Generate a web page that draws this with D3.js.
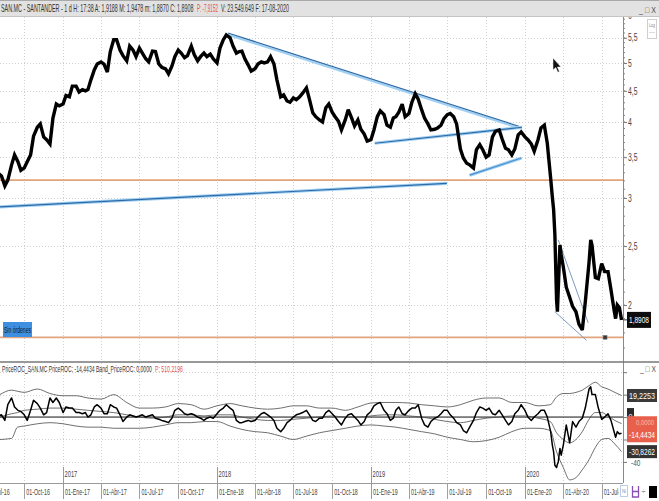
<!DOCTYPE html>
<html><head><meta charset="utf-8">
<script src="https://cdn.jsdelivr.net/npm/d3@7/dist/d3.min.js"></script>
<style>
html,body{margin:0;padding:0;background:#fff;}
svg{display:block;}
text{font-family:"Liberation Sans",Arial,sans-serif;}
</style></head>
<body>
<svg id="chart" width="659" height="501"></svg>
<script>
// ---------------- DATA ----------------
const priceDates = [
"2016-08-01","2016-08-08","2016-08-16","2016-08-23","2016-09-01","2016-09-08","2016-09-16","2016-09-23",
"2016-10-01","2016-10-08","2016-10-16","2016-10-23","2016-11-01","2016-11-08","2016-11-16","2016-11-23",
"2016-12-01","2016-12-08","2016-12-16","2016-12-23",
"2017-01-01","2017-01-08","2017-01-16","2017-01-23","2017-02-01","2017-02-08","2017-02-16","2017-02-23",
"2017-03-01","2017-03-08","2017-03-16","2017-03-23","2017-04-01","2017-04-08","2017-04-16","2017-04-23",
"2017-05-01","2017-05-08","2017-05-16","2017-05-23","2017-06-01","2017-06-08","2017-06-16","2017-06-23",
"2017-07-01","2017-07-08","2017-07-16","2017-07-23","2017-08-01","2017-08-08","2017-08-16","2017-08-23",
"2017-09-01","2017-09-08","2017-09-16","2017-09-23","2017-10-01","2017-10-08","2017-10-16","2017-10-23",
"2017-11-01","2017-11-08","2017-11-16","2017-11-23","2017-12-01","2017-12-08","2017-12-16","2017-12-23",
"2018-01-01","2018-01-08","2018-01-16","2018-01-23","2018-02-01","2018-02-08","2018-02-16","2018-02-23",
"2018-03-01","2018-03-08","2018-03-16","2018-03-23","2018-04-01","2018-04-08","2018-04-16","2018-04-23",
"2018-05-01","2018-05-08","2018-05-16","2018-05-23","2018-06-01","2018-06-08","2018-06-16","2018-06-23",
"2018-07-01","2018-07-08","2018-07-16","2018-07-23","2018-08-01","2018-08-08","2018-08-16","2018-08-23",
"2018-09-01","2018-09-08","2018-09-16","2018-09-23","2018-10-01","2018-10-08","2018-10-16","2018-10-23",
"2018-11-01","2018-11-08","2018-11-16","2018-11-23","2018-12-01","2018-12-08","2018-12-16","2018-12-23",
"2019-01-01","2019-01-08","2019-01-16","2019-01-23","2019-02-01","2019-02-08","2019-02-16","2019-02-23",
"2019-03-01","2019-03-08","2019-03-16","2019-03-23","2019-04-01","2019-04-08","2019-04-16","2019-04-23",
"2019-05-01","2019-05-08","2019-05-16","2019-05-23","2019-06-01","2019-06-08","2019-06-16","2019-06-23",
"2019-07-01","2019-07-08","2019-07-16","2019-07-23","2019-08-01","2019-08-08","2019-08-16","2019-08-23",
"2019-09-01","2019-09-08","2019-09-16","2019-09-23","2019-10-01","2019-10-08","2019-10-16","2019-10-23",
"2019-11-01","2019-11-08","2019-11-16","2019-11-23","2019-12-01","2019-12-08","2019-12-16","2019-12-23",
"2020-01-01","2020-01-08","2020-01-16","2020-01-23","2020-02-01","2020-02-08","2020-02-16","2020-02-23",
"2020-03-02","2020-03-06","2020-03-09","2020-03-12","2020-03-16","2020-03-18","2020-03-20","2020-03-24","2020-03-27",
"2020-04-01","2020-04-08","2020-04-16","2020-04-23","2020-05-01","2020-05-08","2020-05-16","2020-05-23",
"2020-06-01","2020-06-05","2020-06-08","2020-06-16","2020-06-23",
"2020-07-01","2020-07-08","2020-07-16","2020-07-23","2020-07-31",
"2020-08-03","2020-08-07","2020-08-12","2020-08-17"
];
const priceClose = [
3.29,3.26,3.14,3.21, 3.40,3.53,3.44,3.33, 3.36,3.44,3.53,3.79, 3.92,3.97,3.78,3.74, 3.68,4.06,4.28,4.25,
4.28,4.42,4.40,4.58, 4.58,4.48,4.52,4.50, 4.52,4.69,4.87,4.98, 5.02,4.98,4.83,5.22, 5.46,5.46,5.25,5.14,
5.04,5.33,5.25,5.12, 5.29,5.19,5.08,5.02, 5.23,5.22,4.98,4.92, 4.89,4.80,4.94,5.12, 5.25,5.19,5.10,5.14,
5.33,5.16,5.04,5.12, 5.19,5.12,5.17,5.08,
5.00,5.29,5.46,5.56, 5.50,5.33,5.19,5.22, 5.23,5.08,4.96,4.85, 4.89,4.98,5.02,5.00, 5.02,5.12,4.98,4.69,
4.40,4.43,4.33,4.31, 4.38,4.35,4.40,4.46, 4.55,4.36,4.14,4.08, 4.03,4.00,4.22,4.28, 4.15,4.08,4.01,3.88,
4.03,4.19,4.06,3.94, 4.03,3.89,3.82,3.72,
3.74,3.88,4.08,4.17, 4.11,3.95,3.92,4.06, 4.08,4.15,4.28,4.08, 4.13,4.31,4.45,4.36, 4.19,4.06,3.97,3.88,
3.89,3.91,3.95,4.05, 4.11,4.13,4.08,3.97, 3.61,3.49,3.42,3.40, 3.36,3.60,3.67,3.60, 3.50,3.53,3.78,3.86,
3.88,3.75,3.62,3.60, 3.53,3.61,3.81,3.85,
3.78,3.74,3.68,3.58, 3.74,3.91,3.95,3.69,
3.23,3.01,2.87,2.61,2.04,1.95,2.12,2.51,2.42,
2.31,2.14,2.06,1.99, 1.95,1.86,1.82,2.02,
2.35,2.56,2.51,2.22,2.21,
2.34,2.27,2.27,2.12,1.95,
1.90,2.00,1.98,1.8908
];
const rocValues = [
1,2,-3,11, 17,9,6,5, 2,-3,6,15, 12,8,2,4, 17,13,17,13,
4,9,8,8, 4,4,3,4, 0,2,9,11, 8,3,3,11, 9,8,2,-4,
0,2,1,0, 1,2,0,1, 2,-1,-2,-3, -4,-5,-1,6, 8,6,3,2,
3,2,0,-1, -3,-1,0,-1,
3,6,8,11, 8,6,-3,-5, -5,-4,-3,-4, -3,0,3,4, 2,0,-3,-10,
-13,-10,-5,-3, 0,2,3,4, 6,2,-3,-4, -1,-1,4,6, 3,0,-4,-7,
-1,2,3,0, -3,-7,-4,2,
5,10,12,13, 6,3,-3,-1, 6,9,3,2, 6,8,8,11, -1,-7,-9,-4,
-1,0,3,6, 6,2,-1,-5, -7,-12,-14,-9, -3,4,9,8, 6,8,3,2,
6,2,-3,-7, -4,3,6,11,
6,0,-3,0, 3,6,6,0,
-13,-25,-31,-43,-45,-42,-40,-28,-34,
-25,-7,-23,-4, -9,-4,-1,8,
25,27,20,20,8,
-2,0,3,-3,-14,
-18,-13,-15,-14.4434
];
const bandDates = [
"2016-08-04","2016-09-01","2016-09-15","2016-10-01","2016-11-01","2016-12-01",
"2017-01-01","2017-02-01","2017-03-01","2017-04-01","2017-05-01","2017-06-01",
"2017-07-01","2017-08-01","2017-09-01","2017-10-01","2017-11-01","2017-12-01",
"2018-01-01","2018-02-01","2018-03-01","2018-04-01","2018-05-01","2018-06-01",
"2018-07-01","2018-08-01","2018-09-01","2018-10-01","2018-11-01","2018-12-01",
"2019-01-01","2019-02-01","2019-03-01","2019-04-01","2019-05-01","2019-06-01",
"2019-07-01","2019-08-01","2019-09-01","2019-10-01","2019-11-01","2019-12-01",
"2020-01-01","2020-02-01","2020-03-01","2020-03-16","2020-04-01","2020-04-16",
"2020-05-01","2020-05-16","2020-06-01","2020-06-16","2020-07-01","2020-07-16",
"2020-08-01","2020-08-17"
];
const bandUpper = [
20,24,23,22,25,21, 19,19,17,16,20,13, 8,8,9,12,11,7,
10,12,10,8,7,8, 10,10,8,8,6,9, 12.5,13,13,12.5,11,10,
9,11,15,17,17,13, 13,10,11,18,21,21, 22,24,28,31,27,25, 22,19.2253
];
const bandMid = [
0,3,4,6,7,8, 8,7,6,5,4,2, 0,-1,0,2,2,1,
2,2,0,-2,-3,-3, -2,-1,0,1,0,0, 1,2,2,1,0,-2,
-4,-5,-3,-1,0,1, 1,-1,-4,-14,-20,-23, -20,-13,-2,4,4,1, -3,-5.8
];
const bandLower = [
-20,-19,-9,-8,-6,-5, -6,-8,-9,-9,-10,-10, -10,-9,-7,-5,-5,-4,
-4,-8,-11,-13,-14,-17, -20,-17,-14,-12,-10,-8, -7,-8,-9,-11,-13,-15,
-18,-20,-22,-21,-18,-13, -10,-10,-12,-31,-45,-56, -54,-47,-38,-27,-20,-19, -24,-30.8262
];
const priceTicks = [2,2.5,3,3.5,4,4.5,5,5.5,6];
const rocTicks = [40,20,0,-20,-40];
const rocLabelTicks = [-40];
const rocGrid = [40,20,-20,-40];
const monthNamesEs = ["Ene","Feb","Mar","Abr","May","Jun","Jul","Ago","Sep","Oct","Nov","Dic"];
const yearLabels = [2017,2018,2019,2020];
const levelPrices = [3.21,1.77];
const trendStart = [["2016-08-04",2.90],["2018-01-27",5.60],["2019-01-10",3.69],["2019-08-23",3.27],["2020-03-20",2.56],["2020-03-12",1.95]];
const trendEnd   = [["2019-06-30",3.17],["2019-12-25",3.92],["2019-12-25",3.92],["2019-12-24",3.49],["2020-05-30",1.87],["2020-05-26",1.75]];
const orderMarker = ["2020-07-09",1.77];
const titleParts = ["SAN.MC - SANTANDER - 1 d H: 17:38 A: 1,9188 M: 1,9478 m: 1,8870 C: 1,8908","P: -7,9152","V: 23.549.649 F: 17-08-2020"];
const indParts = ["PriceROC_SAN.MC PriceROC: -14,4434 Band_PriceROC: 0,0000","P: 510,2196"];
const lastClose = 1.8908, lastRoc = -14.4434, lastUpper = 19.2253, lastLower = -30.8262;

// ---------------- DRAWING ----------------
const svg = d3.select("#chart");
const parse = d3.timeParse("%Y-%m-%d");
const x = d3.scaleTime().domain([new Date(2016,7,4,12), new Date(2020,7,20,12)]).range([0,623]);
const yP = d3.scaleLog().domain([1.7,5.95]).range([348,17]);
const yR = d3.scaleLinear().domain([-57,36.6]).range([481,376]);
const comma = v => String(v).replace(".",",");

// text helper: condensed text fitted to a given width through a horizontal scale
function fitLabel(parent, px, py, str, size, width, fill, anchor){
  const g = parent.append("g");
  const t = g.append("text").attr("font-size",size).attr("fill",fill||"#333").attr("text-anchor",anchor||"start").text(str);
  const w = t.node().getComputedTextLength() || 1;
  g.attr("transform",`translate(${px},${py}) scale(${(width/w).toFixed(4)},1)`);
  return t;
}
function condLabel(parent, px, py, str, size, ratio, fill, anchor){
  const g = parent.append("g").attr("transform",`translate(${px},${py}) scale(${ratio},1)`);
  return g.append("text").attr("font-size",size).attr("fill",fill||"#333").attr("text-anchor",anchor||"start").text(str);
}

const defs = svg.append("defs");
defs.append("clipPath").attr("id","clipMain").append("rect").attr("x",0).attr("y",17).attr("width",623).attr("height",345);
defs.append("clipPath").attr("id","clipInd").append("rect").attr("x",0).attr("y",363).attr("width",623).attr("height",120);
defs.append("clipPath").attr("id","clipAxis").append("rect").attr("x",0).attr("y",483).attr("width",619).attr("height",18);
defs.append("clipPath").attr("id","clipMainAxis").append("rect").attr("x",-10).attr("y",17).attr("width",60).attr("height",345);

svg.append("rect").attr("width",659).attr("height",501).attr("fill","#fff");

const quarterTicks = d3.timeMonth.range(new Date(2016,6,1), new Date(2020,8,1), 3);
const yearTicks = yearLabels.map(y=>new Date(y,0,1));

// ===== Main panel =====
const gMain = svg.append("g").attr("clip-path","url(#clipMain)");
gMain.selectAll("line.hg").data(priceTicks).join("line")
  .attr("x1",0).attr("x2",623).attr("y1",d=>Math.round(yP(d))+0.5).attr("y2",d=>Math.round(yP(d))+0.5)
  .attr("stroke","#cfcfcf").attr("stroke-dasharray","1,2");
gMain.selectAll("line.vg").data(quarterTicks).join("line")
  .attr("x1",d=>Math.round(x(d))+0.5).attr("x2",d=>Math.round(x(d))+0.5).attr("y1",17).attr("y2",362)
  .attr("stroke","#d0d0d0").attr("stroke-dasharray","1,2");

gMain.selectAll("line.lvl").data(levelPrices).join("line")
  .attr("x1",0).attr("x2",623).attr("y1",d=>yP(d)).attr("y2",d=>yP(d))
  .attr("stroke","#e2a47c").attr("stroke-width",1.8);

const tl = trendStart.map((s,i)=>({x1:x(parse(s[0])),y1:yP(s[1]),x2:x(parse(trendEnd[i][0])),y2:yP(trendEnd[i][1]),i}));
tl.forEach(t=>{
  if(t.i>=4){
    gMain.append("line").attr("x1",t.x1).attr("y1",t.y1).attr("x2",t.x2).attr("y2",t.y2)
      .attr("stroke","#7f9cc0").attr("stroke-width",1);
  } else {
    const off = t.i===1 ? 1.8 : 0;
    gMain.append("line").attr("x1",t.x1).attr("y1",t.y1+off).attr("x2",t.x2).attr("y2",t.y2+off)
      .attr("stroke","#9fd0f3").attr("stroke-width",t.i===1?2.2:3.2);
    gMain.append("line").attr("x1",t.x1).attr("y1",t.y1).attr("x2",t.x2).attr("y2",t.y2)
      .attr("stroke",t.i===3?"#4f8fcb":"#2e6aa6").attr("stroke-width",1.2);
  }
});

const pts = priceDates.map((d,i)=>({date:parse(d), v:priceClose[i]}));
gMain.append("path").datum(pts)
  .attr("d", d3.line().x(d=>x(d.date)).y(d=>yP(d.v)))
  .attr("fill","none").attr("stroke","#000").attr("stroke-width",3.4).attr("stroke-linejoin","miter").attr("stroke-miterlimit",3);

gMain.append("rect").attr("x",x(parse(orderMarker[0]))-2).attr("y",yP(orderMarker[1])-2)
  .attr("width",4).attr("height",4).attr("fill","#3a3a3a").attr("stroke","#888").attr("stroke-width",0.5);

gMain.append("rect").attr("x",3).attr("y",322).attr("width",29).attr("height",15).attr("fill","#3f8fe0");
fitLabel(gMain,4,333,"Sin órdenes",9,27,"#0c1a33");

svg.append("path").attr("d","M553,58 L553,70 L555.8,67.6 L557.8,72.3 L559.4,71.6 L557.4,67 L561,67 Z")
  .attr("fill","#111").attr("stroke","#fff").attr("stroke-width",0.5);

// main right axis
const axP = svg.append("g").attr("transform","translate(623,0)").attr("clip-path","url(#clipMainAxis)");
axP.call(d3.axisRight(yP).tickValues(priceTicks).tickSize(4).tickPadding(2).tickFormat(comma));
axP.select(".domain").remove();
axP.selectAll(".tick line").attr("stroke","#777");
axP.selectAll(".tick text").attr("x",0).attr("transform","translate(5,0) scale(0.68,1)")
  .attr("font-size",10).attr("fill","#444").attr("font-family","Liberation Sans, Arial, sans-serif");
const minorP = d3.range(17,61).map(v=>v/10);
axP.selectAll("line.mn").data(minorP).join("line").attr("x1",0).attr("x2",2)
  .attr("y1",d=>yP(d)).attr("y2",d=>yP(d)).attr("stroke","#888");
svg.append("line").attr("x1",623.5).attr("x2",623.5).attr("y1",17).attr("y2",483).attr("stroke","#8a8a8a");

svg.append("line").attr("x1",623).attr("x2",628).attr("y1",yP(lastClose)).attr("y2",yP(lastClose)).attr("stroke","#333");
svg.append("rect").attr("x",627).attr("y",yP(lastClose)-8).attr("width",24).attr("height",16).attr("fill","#0d0d0d");
fitLabel(svg,639,yP(lastClose)+3.5,comma(lastClose),9.5,20,"#fff","middle");

svg.append("rect").attr("x",647.5).attr("y",19.5).attr("width",9).attr("height",19).attr("fill","#fff").attr("stroke","#cfcfcf");
fitLabel(svg,652,27,"Log",5,6,"#888","middle");
svg.append("line").attr("x1",649.5).attr("x2",654.5).attr("y1",32.5).attr("y2",32.5).attr("stroke","#bbb").attr("stroke-dasharray","1,1");

svg.append("line").attr("x1",0).attr("x2",659).attr("y1",362).attr("y2",362).attr("stroke","#777").attr("stroke-width",1.5);

// ===== Indicator panel =====
const gInd = svg.append("g").attr("clip-path","url(#clipInd)");
gInd.selectAll("line.hg").data(rocGrid).join("line")
  .attr("x1",0).attr("x2",623).attr("y1",d=>Math.round(yR(d))+0.5).attr("y2",d=>Math.round(yR(d))+0.5)
  .attr("stroke","#cfcfcf").attr("stroke-dasharray","1,2");
gInd.selectAll("line.vg").data(quarterTicks).join("line")
  .attr("x1",d=>Math.round(x(d))+0.5).attr("x2",d=>Math.round(x(d))+0.5).attr("y1",363).attr("y2",483)
  .attr("stroke","#d0d0d0").attr("stroke-dasharray","1,2");
gInd.append("line").attr("x1",0).attr("x2",623).attr("y1",yR(0)).attr("y2",yR(0)).attr("stroke","#111").attr("stroke-width",1);

const bands = bandDates.map((d,i)=>({date:parse(d),u:bandUpper[i],m:bandMid[i],l:bandLower[i]}));
["u","m","l"].forEach(k=>{
  gInd.append("path").datum(bands)
    .attr("d", d3.line().curve(d3.curveMonotoneX).x(d=>x(d.date)).y(d=>yR(d[k])))
    .attr("fill","none").attr("stroke","#4a4a4a").attr("stroke-width",0.8);
});
const rocPts = priceDates.map((d,i)=>({date:parse(d), v:rocValues[i]}));
gInd.append("path").datum(rocPts)
  .attr("d", d3.line().x(d=>x(d.date)).y(d=>yR(d.v)))
  .attr("fill","none").attr("stroke","#000").attr("stroke-width",1.5).attr("stroke-linejoin","round");

fitLabel(svg,2,372,indParts[0],9.5,150,"#333");
fitLabel(svg,155,372,indParts[1],9.5,28,"#e5534b");
fitLabel(svg,640,372,"_ □ X",9,16,"#555");

const axR = svg.append("g").attr("transform","translate(623,0)");
axR.call(d3.axisRight(yR).tickValues(rocTicks).tickSize(4).tickPadding(3).tickFormat(d=>rocLabelTicks.includes(d)?d:""));
axR.select(".domain").remove();
axR.selectAll(".tick line").attr("stroke","#777");
axR.selectAll(".tick text").attr("x",0).attr("transform","translate(8,1) scale(0.68,1)").attr("font-size",9.5).attr("fill","#555");

function valueBox(v, fill, label){
  const yc = yR(v);
  svg.append("rect").attr("x",627).attr("y",yc-6.5).attr("width",30).attr("height",13).attr("fill",fill);
  fitLabel(svg,642,yc+3.5,label,9.5,26,"#fff","middle");
}
valueBox(lastUpper,"#3a3a3a",comma(lastUpper));
svg.append("rect").attr("x",627).attr("y",yR(0)-9).attr("width",7).attr("height",14).attr("fill","#2a2a2a");
fitLabel(svg,630.5,yR(0)+1.5,"0",8,4,"#fff","middle");
svg.append("rect").attr("x",627).attr("y",yR(lastRoc)-17).attr("width",30).attr("height",26).attr("fill","#e8604c");
fitLabel(svg,645,yR(lastRoc)-8,"0,0000",8,18,"#f6c0b3","middle");
fitLabel(svg,642,yR(lastRoc)+5,comma(lastRoc),9.5,26,"#fff","middle");
valueBox(lastLower,"#333333",comma(lastLower));

// ===== X axis band =====
svg.append("line").attr("x1",0).attr("x2",623).attr("y1",483.5).attr("y2",483.5).attr("stroke","#9a9a9a");
const gAx = svg.append("g").attr("clip-path","url(#clipAxis)");
gAx.selectAll("line.qt").data(quarterTicks).join("line")
  .attr("x1",d=>Math.round(x(d))+0.5).attr("x2",d=>Math.round(x(d))+0.5).attr("y1",483).attr("y2",499)
  .attr("stroke","#a0a0a0");
quarterTicks.forEach(d=>{
  condLabel(gAx, x(d)+2, 495, "01-"+monthNamesEs[d.getMonth()]+"-"+String(d.getFullYear()).slice(2), 9.5, 0.56, "#444");
});
svg.selectAll("line.yt").data(yearTicks).join("line")
  .attr("x1",d=>Math.round(x(d))+0.5).attr("x2",d=>Math.round(x(d))+0.5).attr("y1",467).attr("y2",499)
  .attr("stroke","#999");
yearTicks.forEach(d=>{ condLabel(svg, x(d)+1.5, 477, String(d.getFullYear()), 9.5, 0.6, "#444"); });

svg.append("rect").attr("x",620.5).attr("y",485.5).attr("width",7).attr("height",11).attr("fill","#fff").attr("stroke","#b9cde6");
fitLabel(svg,624,493,"Ni",5,4,"#6b8fc0","middle");
svg.append("path").attr("d","M632.5,486 L632.5,497 L638.5,497 L638.5,486 M632.5,491.5 L638.5,491.5").attr("fill","none").attr("stroke","#8a4fb5").attr("stroke-width",1.3);
fitLabel(svg,643.5,494,"÷",8,4,"#444","middle");
svg.append("rect").attr("x",649).attr("y",486).attr("width",8).attr("height",12).attr("fill","#000");

// ===== Title bar =====
svg.append("rect").attr("x",0).attr("y",0).attr("width",659).attr("height",16.5).attr("fill","#e2e2e2");
svg.append("line").attr("x1",0).attr("x2",659).attr("y1",0.5).attr("y2",0.5).attr("stroke","#a9a9a9");
svg.append("line").attr("x1",0).attr("x2",659).attr("y1",16.5).attr("y2",16.5).attr("stroke","#c4c4c4");
fitLabel(svg,1,12,titleParts[0],10,193,"#333");
fitLabel(svg,197,12,titleParts[1],10,21,"#e5534b");
fitLabel(svg,221,12,titleParts[2],10,68,"#333");
fitLabel(svg,639,13,"_ □ X",9,17,"#555");
</script>
</body></html>
